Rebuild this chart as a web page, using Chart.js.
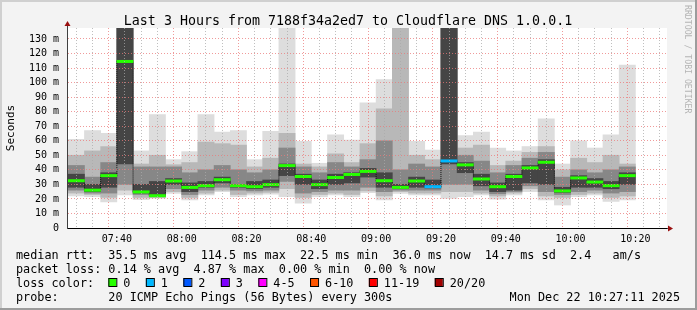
<!DOCTYPE html>
<html>
<head>
<meta charset="utf-8">
<title>Smokeping - Cloudflare DNS 1.0.0.1</title>
<script src="https://cdn.jsdelivr.net/npm/chart.js@4/dist/chart.umd.min.js"></script>
<style>
  html, body { margin: 0; padding: 0; background: #f3f3f3; }
  canvas { display: block; }
</style>
</head>
<body>
<canvas id="pingChart" width="697" height="310"></canvas>
<script>
// start of each 5 minute slot
var slots = ['07:25', '07:30', '07:35', '07:40', '07:45', '07:50', '07:55',
             '08:00', '08:05', '08:10', '08:15', '08:20', '08:25', '08:30', '08:35', '08:40', '08:45', '08:50', '08:55',
             '09:00', '09:05', '09:10', '09:15', '09:20', '09:25', '09:30', '09:35', '09:40', '09:45', '09:50', '09:55',
             '10:00', '10:05', '10:10', '10:15'];

// smoke: sorted ping spread per slot (ms), outer band -> inner band
var pingMin = [22, 21.5, 18, 22.7, 19.5, 20.5, 23.8, 19.3, 22.7, 25, 21.5, 22.7, 23.3, 21.5, 17, 21.5, 22.7, 21.5, 24.3, 19.3, 23.8, 22.7, 22.7, 20.4, 21.5, 22.7, 19.8, 22.7, 25, 19.3, 15.8, 21.5, 22.7, 18.2, 19.3];
var band2Lo = [24, 23, 21, 26, 21, 21, 25, 21, 24, 26, 23, 24, 24.5, 27, 21, 23, 24, 23, 25.5, 22, 25, 24, 24, 25, 25, 24, 22, 24, 27, 22, 21, 23, 24, 21, 22];
var band3Lo = [26, 24, 24, 30, 23, 21.5, 27, 23, 26, 28, 26, 25.5, 26, 32, 24, 25, 26, 26, 28, 25, 26, 26, 26, 30, 30, 26, 23.5, 25, 29, 25, 23, 25, 26, 24, 25];
var band4Lo = [28, 25, 28, 44, 24, 22, 30, 25, 28, 31, 28, 27, 28, 36, 30, 27, 30, 31, 35, 28, 27, 28, 27.5, 44, 38, 29, 25, 26, 31, 30, 24.5, 28, 28, 27, 30];
var median  = [32.5, 26, 36, 114.5, 24.8, 22.2, 32.3, 27.9, 29.1, 33.2, 29.1, 28.4, 29.8, 42.9, 35.4, 29.8, 34.7, 36.8, 38.9, 32.5, 27.9, 32.3, 28.4, 46.1, 43.4, 33.7, 28.4, 35.4, 41.3, 45.2, 25.5, 34.4, 31.6, 29.1, 36.0];
var band4Hi = [37, 30, 38, 140, 30, 32, 34, 31, 32, 35, 30, 32, 33, 44, 37, 33, 37, 38, 41, 38, 30, 35, 33, 140, 45, 37, 31, 37, 43, 47, 28, 36, 34, 32, 38];
var band3Hi = [43, 35, 45, 140, 42, 42, 42, 38, 40, 43, 40, 38, 40, 55, 42, 38, 45, 42, 47, 60, 40, 44, 42, 140, 50, 46, 38, 43, 48, 52, 35, 40, 38, 40, 42];
var band2Hi = [50, 53, 56, 140, 44, 50, 43.5, 45, 59, 58, 57, 42, 48, 65, 44, 42, 51, 45, 58, 82, 140, 50, 47, 140, 55, 57, 43, 46, 52, 56, 40, 48, 45, 50, 44];
var pingMax = [61, 67, 65, 140, 53, 78, 47, 52.5, 78, 66, 67, 47, 66.5, 140, 59.5, 44.5, 64, 60.5, 86, 102, 140, 59.5, 53.6, 140, 63.6, 66, 55, 53, 56, 75, 44, 60, 55, 64, 112];
// lost pings per slot (index into lossColors)
var lossIdx = [0, 0, 0, 0, 0, 0, 0, 0, 0, 0, 0, 0, 0, 0, 0, 0, 0, 0, 0, 0, 0, 0, 1, 1, 0, 0, 0, 0, 0, 0, 0, 0, 0, 0, 0];

var lossLabels = ['0', '1', '2', '3', '4-5', '6-10', '11-19', '20/20'];
var lossColors = ['#26ff00', '#00b8ff', '#0059ff', '#7e00ff', '#ff00ff', '#ff5500', '#ff0000', '#a10000'];

var xTickLabels = ['07:40', '08:00', '08:20', '08:40', '09:00', '09:20', '09:40', '10:00', '10:20'];
var yTickValues = [0, 10, 20, 30, 40, 50, 60, 70, 80, 90, 100, 110, 120, 130];

var rangeStart = '07:27:11', rangeEnd = '10:27:11';

var titleText = 'Last 3 Hours from 7188f34a2ed7 to Cloudflare DNS 1.0.0.1';
var legendLines = [
  'median rtt:  35.5 ms avg  114.5 ms max  22.5 ms min  36.0 ms now  14.7 ms sd  2.4   am/s',
  'packet loss: 0.14 % avg  4.87 % max  0.00 % min  0.00 % now'
];
var probeText = 'probe:       20 ICMP Echo Pings (56 Bytes) every 300s';
var stampText = 'Mon Dec 22 10:27:11 2025';

var MONO = '"DejaVu Sans Mono", "Liberation Mono", monospace';
var majorGrid = 'rgba(235, 120, 120, 0.75)';
var minorGrid = 'rgba(170, 170, 170, 0.75)';

function toMin(t) {
  var p = t.split(':');
  return +p[0] * 60 + +p[1] + (p[2] ? +p[2] / 60 : 0);
}

var xMin = toMin(rangeStart), xMax = toMin(rangeEnd);
var xGrid = [];
for (var m = Math.ceil(xMin / 5) * 5; m < xMax; m += 5) xGrid.push(m);
var yGrid = [];
for (var v = 0; v <= 135; v += 5) yGrid.push(v);

function band(lo, hi, color, order) {
  return {
    data: slots.map(function (s, i) { return { x: toMin(s) + 2.5, y: [lo[i], hi[i]] }; }),
    backgroundColor: color,
    borderWidth: 0,
    grouped: false,
    barPercentage: 1,
    categoryPercentage: 1,
    clip: 0,
    order: order
  };
}

var medianSet = band(median.map(function (d) { return d - 0.8; }), median.map(function (d) { return d + 0.8; }), lossIdx.map(function (l) { return lossColors[l]; }), 0);

// thin dotted step line joining the medians
var medianLink = {
  type: 'line',
  data: slots.map(function (s, i) { return { x: toMin(s) + 2.5, y: median[i] }; }),
  stepped: 'middle',
  borderColor: '#111',
  borderWidth: 1,
  borderDash: [1, 1],
  pointRadius: 0,
  fill: false,
  clip: 0,
  order: 0.5
};

var decor = {
  id: 'decor',
  beforeDraw: function (chart) {
    var c = chart.ctx, a = chart.chartArea;
    c.save();
    c.fillStyle = '#f3f3f3';
    c.fillRect(0, 0, chart.width, chart.height);
    c.fillStyle = '#d0d0d0';
    c.fillRect(0, 0, chart.width, 2);
    c.fillRect(0, 0, 2, chart.height);
    c.fillStyle = '#9c9c9c';
    c.fillRect(0, chart.height - 2, chart.width, 2);
    c.fillRect(chart.width - 2, 0, 2, chart.height);
    c.fillStyle = '#ffffff';
    c.fillRect(a.left, a.top, a.right - a.left, a.bottom - a.top);
    c.restore();
  },
  afterDraw: function (chart) {
    var c = chart.ctx, a = chart.chartArea;
    c.save();
    // axis arrows
    c.strokeStyle = '#404040';
    c.lineWidth = 1;
    c.beginPath();
    c.moveTo(a.left + 0.5, a.top);
    c.lineTo(a.left + 0.5, a.top - 4);
    c.moveTo(a.right, a.bottom + 0.5);
    c.lineTo(a.right + 3, a.bottom + 0.5);
    c.stroke();
    c.fillStyle = '#9a1010';
    c.beginPath();
    c.moveTo(a.left - 2.5, a.top - 2);
    c.lineTo(a.left + 3.5, a.top - 2);
    c.lineTo(a.left + 0.5, a.top - 7);
    c.closePath();
    c.fill();
    c.beginPath();
    c.moveTo(a.right + 1, a.bottom - 2.5);
    c.lineTo(a.right + 1, a.bottom + 3.5);
    c.lineTo(a.right + 6, a.bottom + 0.5);
    c.closePath();
    c.fill();

    // title
    c.fillStyle = '#000';
    c.font = '13.3px ' + MONO;
    c.textAlign = 'center';
    c.textBaseline = 'alphabetic';
    c.fillText(titleText, 348, 24.5);

    // vertical axis title
    c.save();
    c.translate(11, (a.top + a.bottom) / 2);
    c.rotate(-Math.PI / 2);
    c.font = '11px ' + MONO;
    c.textBaseline = 'middle';
    c.fillText('Seconds', 0, 0);
    c.restore();

    // watermark
    c.save();
    c.translate(687, 5);
    c.rotate(Math.PI / 2);
    c.font = '8.2px ' + MONO;
    c.fillStyle = '#b4b4b4';
    c.textAlign = 'left';
    c.textBaseline = 'middle';
    c.fillText('RRDTOOL / TOBI OETIKER', 0, 0);
    c.restore();

    // legend block
    c.font = '11.8px ' + MONO;
    c.textAlign = 'left';
    c.textBaseline = 'alphabetic';
    var cw = c.measureText('0').width;
    var x0 = 16, base = 258.5, step = 14;
    c.fillText(legendLines[0], x0, base);
    c.fillText(legendLines[1], x0, base + step);
    c.fillText('loss color:', x0, base + 2 * step);
    var bx = x0 + 13 * cw;
    lossLabels.forEach(function (lab, i) {
      c.fillStyle = lossColors[i];
      c.fillRect(bx, base + 2 * step - 8.5, 8, 8);
      c.strokeStyle = '#000';
      c.strokeRect(bx + 0.5, base + 2 * step - 8, 8, 8);
      c.fillStyle = '#000';
      c.fillText(lab, bx + 15, base + 2 * step);
      bx = bx + 15 + c.measureText(lab).width + 15.4;
    });
    c.fillText(probeText, x0, base + 3 * step);
    c.textAlign = 'right';
    c.fillText(stampText, 680, base + 3 * step);
    c.restore();
  }
};

var ctx = document.getElementById('pingChart').getContext('2d');

var pingChart = new Chart(ctx, {
  type: 'bar',
  data: {
    datasets: [
      medianSet,
      medianLink,
      band(band4Lo, band4Hi, '#454545', 1),
      band(band3Lo, band3Hi, '#878787', 2),
      band(band2Lo, band2Hi, '#b8b8b8', 3),
      band(pingMin, pingMax, '#dddddd', 4)
    ]
  },
  options: {
    responsive: false,
    animation: false,
    devicePixelRatio: 1,
    layout: { padding: { left: 0, right: 30, top: 28, bottom: 0 } },
    plugins: { legend: { display: false }, tooltip: { enabled: false }, title: { display: false } },
    scales: {
      x: {
        type: 'linear',
        min: xMin,
        max: xMax,
        afterBuildTicks: function (s) { s.ticks = xGrid.map(function (v) { return { value: v }; }); },
        afterFit: function (s) { s.height = 82; },
        grid: {
          z: 1,
          drawTicks: false,
          lineWidth: 1,
          color: function (c) { return c.tick && c.tick.value % 20 === 0 ? majorGrid : minorGrid; }
        },
        border: { display: true, color: '#000', width: 1, z: 2, dash: [1, 2] },
        ticks: {
          autoSkip: false,
          maxRotation: 0,
          padding: 5,
          color: '#000',
          font: { family: MONO, size: 10 },
          callback: function (v) {
            var h = Math.floor(v / 60), mm = v % 60;
            var lab = (h < 10 ? '0' : '') + h + ':' + (mm < 10 ? '0' : '') + mm;
            return xTickLabels.indexOf(lab) >= 0 ? lab : '';
          }
        }
      },
      y: {
        min: 0,
        max: 137.5,
        afterBuildTicks: function (s) { s.ticks = yGrid.map(function (v) { return { value: v }; }); },
        afterFit: function (s) { s.width = 67; },
        grid: {
          z: 1,
          drawTicks: false,
          lineWidth: 1,
          color: function (c) { return c.tick && c.tick.value % 10 === 0 ? majorGrid : minorGrid; }
        },
        border: { display: true, color: '#404040', width: 1, z: 2, dash: [1, 2] },
        ticks: {
          padding: 8,
          color: '#000',
          font: { family: MONO, size: 10 },
          callback: function (v) {
            if (yTickValues.indexOf(v) < 0) return '';
            return v === 0 ? '0' : v + ' m';
          }
        }
      }
    }
  },
  plugins: [decor]
});
</script>
</body>
</html>
